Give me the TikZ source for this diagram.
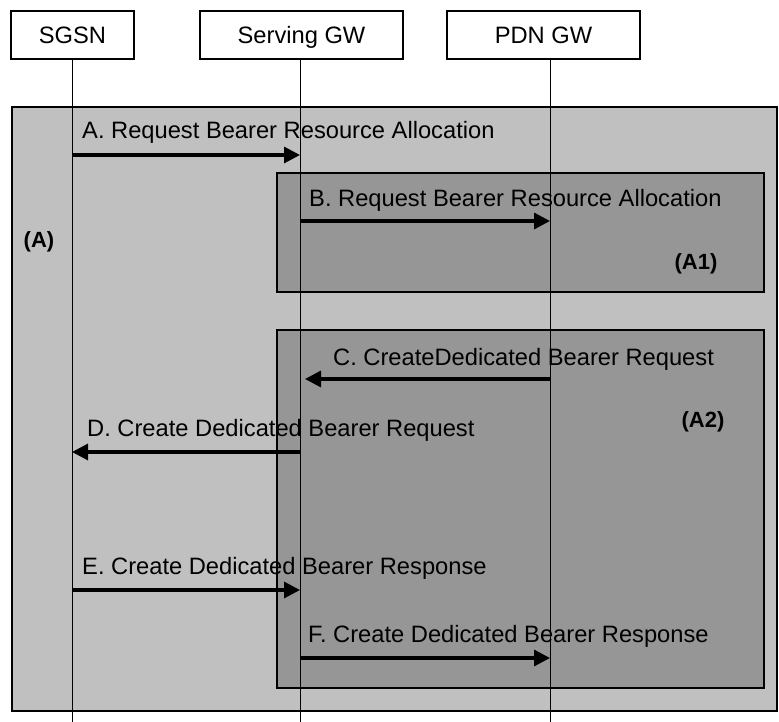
\documentclass[tikz,border=0pt]{standalone}
\usepackage{fontspec}
\setmainfont{Liberation Sans}
\usetikzlibrary{arrows.meta,positioning}
\definecolor{outergray}{HTML}{C0C0C0}
\definecolor{innergray}{HTML}{969696}

\begin{document}
\begin{tikzpicture}[x=1pt, y=-1pt,
  ent/.style={rectangle, draw, line width=2pt, fill=white, minimum width=#1, minimum height=48pt, inner sep=0pt, text height=16.5pt, text depth=0pt, font=\fontsize{23.7}{28}\selectfont},
  zone/.style={draw, line width=2pt, fill=#1},
  msg/.style={-{Triangle[length=16pt,width=16pt]}, line width=3.2pt},
  lbl/.style={anchor=base west, inner sep=0pt, font=\fontsize{23.7}{28}\selectfont},
  tag/.style={inner sep=0pt, font=\fontsize{22}{26}\selectfont\bfseries},
  life/.style={line width=1pt}
]
  \useasboundingbox (0,0) rectangle (779,722);
  % areas
  \draw[zone=outergray] (12,107) rectangle (777,711);
  \draw[zone=innergray] (277,173) rectangle (764,292);
  \draw[zone=innergray] (277,330) rectangle (764,688);
  \node[tag] (tagA) at (39,242) {(A)};
  \node[tag] (tagA1) at (696,264) {(A1)};
  \node[tag] (tagA2) at (703,422) {(A2)};

  % entities
  \node[ent=123pt] (sgsn) at (72.5,35) {SGSN};
  \node[ent=203pt] (sgw) at (301.5,35) {Serving GW};
  \node[ent=193pt] (pgw) at (543.5,35) {PDN GW};
  \coordinate (sgsnT) at (72,59);
  \coordinate (sgwT) at (300,59);
  \coordinate (pgwT) at (550,59);
  \coordinate (bot) at (0,722);
  \draw[life] (sgsnT) -- (sgsnT |- bot);
  \draw[life] (sgwT) -- (sgwT |- bot);
  \draw[life] (pgwT) -- (pgwT |- bot);

  % messages
  \draw[msg] (sgsnT |- 0,155) -- (sgwT |- 0,155);
  \node[lbl] (la) at (82,139) {A. Request Bearer Resource Allocation};
  \draw[msg] (sgwT |- 0,221) -- (pgwT |- 0,221);
  \node[lbl] (lb) at (309,207) {B. Request Bearer Resource Allocation};
  \draw[msg] (pgwT |- 0,379) -- ([xshift=5pt]sgwT |- 0,379);
  \node[lbl] (lc) at (333,365) {C. CreateDedicated Bearer Request};
  \draw[msg] (sgwT |- 0,452) -- (sgsnT |- 0,452);
  \node[lbl] (ld) at (87,436) {D. Create Dedicated Bearer Request};
  \draw[msg] (sgsnT |- 0,590) -- (sgwT |- 0,590);
  \node[lbl] (le) at (82,574) {E. Create Dedicated Bearer Response};
  \draw[msg] (sgwT |- 0,658) -- (pgwT |- 0,658);
  \node[lbl] (lf) at (308,642) {F. Create Dedicated Bearer Response};
\end{tikzpicture}
\end{document}
